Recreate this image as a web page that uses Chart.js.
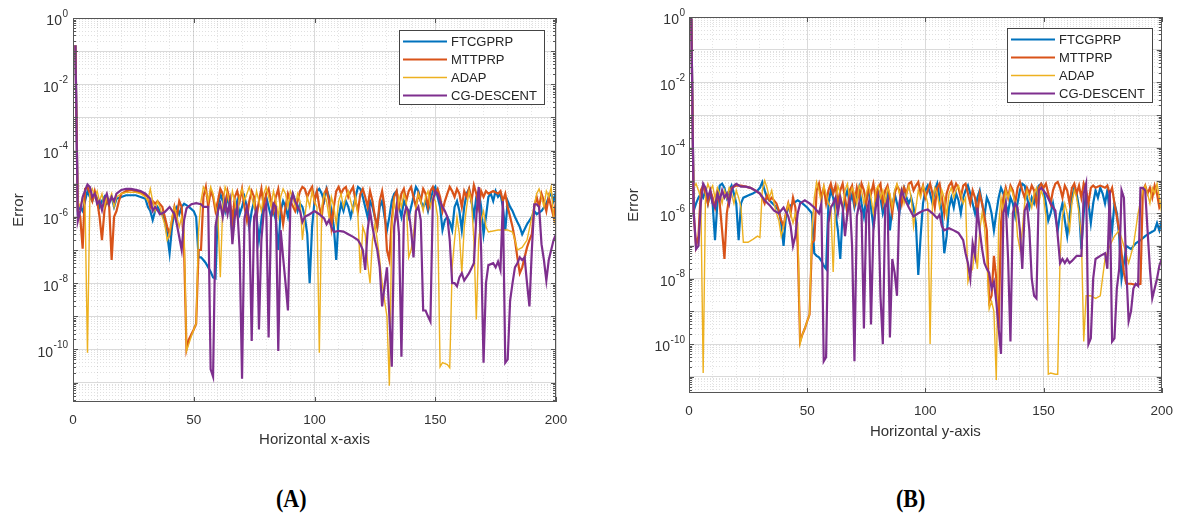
<!DOCTYPE html>
<html>
<head>
<meta charset="utf-8">
<style>
  html, body { margin:0; padding:0; background:#fff; }
  body { width:1183px; height:519px; position:relative; overflow:hidden; }
  #wrapA { position:absolute; left:0; top:0; }
  #wrapB { position:absolute; left:600px; top:0; }
  .tag { position:absolute; top:486px; font-family:"Liberation Serif","Times New Roman",serif; font-weight:bold; font-size:22px; color:#000; transform:scaleY(1.1); }
</style>
</head>
<body>
<div id="wrapA"><canvas id="chartA" width="590" height="460"></canvas></div>
<div id="wrapB"><canvas id="chartB" width="583" height="451"></canvas></div>
<div class="tag" style="left:276px">(A)</div>
<div class="tag" style="left:896px">(B)</div>

<script src="https://cdn.jsdelivr.net/npm/chart.js@4.4.1/dist/chart.umd.min.js"></script>
<script>

// series names and colours (MATLAB default order)
const seriesNames = ['FTCGPRP', 'MTTPRP', 'ADAP', 'CG-DESCENT'];
const seriesColors = ['#0072BD', '#D95319', '#EDB120', '#7E2F8E'];

// x ticks and log ticks (labels drawn as 10 with a raised exponent)
const xTickLabels = [0, 50, 100, 150, 200];
const errorTickValues = [1, 1e-2, 1e-4, 1e-6, 1e-8, 1e-10];
const errorTickExponents = ['0', '-2', '-4', '-6', '-8', '-10'];

// ---- panel (A): [iteration, error] ----
const ftcgprpA = [[1,0.15],[2,1.5e-6],[3,2e-6],[4,1.5e-6],[5,3e-6],[6,6e-6],[7,4e-6],[8,3e-6],[9,5e-6],[10,3.5e-6],[11,2e-6],[12,3e-6],[13,4e-6],[14,2.5e-6],[15,3e-6],[16,4e-6],[17,2e-6],[18,3.5e-6],[20,4e-6],[22,4.5e-6],[24,4.5e-6],[26,4.5e-6],[28,4e-6],[30,3.5e-6],[31,2e-6],[32,1.5e-6],[33,8e-7],[34,1.5e-6],[35,2e-6],[36,1.5e-6],[37,1.2e-6],[38,8e-7],[39,3e-7],[40,8e-8],[41,5e-7],[42,1.5e-6],[43,2e-6],[44,1.2e-6],[45,2e-6],[46,2.5e-6],[48,2e-6],[50,1.5e-6],[51,1e-6],[52,6e-8],[53,6e-8],[54,5e-8],[55,4e-8],[56,3e-8],[57,2.2e-8],[58,1.5e-8],[59,1.4e-8],[60,2e-6],[61,5e-6],[62,3e-6],[63,1.5e-6],[64,4e-6],[65,2e-6],[66,3e-7],[67,1.5e-6],[68,3e-6],[69,1.2e-6],[70,2e-6],[71,4e-6],[72,2e-6],[73,5e-7],[74,1.5e-6],[75,3e-6],[76,1e-6],[77,2e-7],[78,8e-7],[79,3e-6],[80,4e-6],[81,2e-6],[82,1e-6],[83,1.5e-6],[84,8e-7],[85,1e-7],[86,1.5e-6],[87,3e-6],[88,2e-6],[89,1e-6],[90,3e-6],[91,5e-6],[92,3e-6],[93,1.5e-6],[94,2.5e-6],[95,2e-6],[96,1e-6],[97,3e-7],[98,1e-8],[99,5e-7],[100,3e-6],[101,6e-6],[102,7e-6],[103,5e-6],[104,3e-6],[105,7e-6],[106,4e-6],[107,1.5e-6],[108,5e-7],[109,5e-8],[110,1e-6],[111,2.5e-6],[112,1.5e-6],[113,3e-6],[114,2e-6],[115,1e-6],[116,2e-6],[117,4e-6],[118,8e-6],[119,7e-6],[120,4e-6],[121,2e-6],[122,1e-6],[123,3e-6],[124,2e-6],[125,1e-6],[126,5e-7],[127,2e-6],[128,3e-6],[129,1e-6],[130,4e-7],[131,1e-6],[132,3e-6],[133,5e-6],[134,6e-6],[135,2e-6],[136,1e-6],[137,3e-6],[138,2e-6],[139,1e-6],[140,2e-6],[141,4e-6],[142,8e-6],[143,6e-6],[144,3e-6],[145,2e-6],[146,3e-6],[147,1.5e-6],[148,3e-6],[149,6e-6],[150,8e-6],[151,4e-6],[152,2e-6],[153,4e-7],[154,8e-7],[155,1e-6],[156,7e-7],[157,4e-7],[158,2e-6],[159,3e-6],[160,1.5e-6],[161,4e-7],[162,2e-6],[163,5e-6],[164,7e-6],[165,3e-6],[166,1e-6],[167,4e-6],[168,6e-6],[169,2e-6],[170,3e-7],[171,1e-6],[172,4e-6],[173,5e-6],[174,3e-6],[175,6e-6],[176,4e-6],[177,5e-6],[178,2e-6],[179,4e-7],[180,3e-6],[181,2e-6],[182,1.5e-6],[183,1e-6],[184,7e-7],[185,5e-7],[186,3e-7],[188,6e-7],[190,1e-6],[191,1.5e-6],[192,1.2e-6],[194,1.5e-6],[196,2.5e-6],[197,4e-6],[198,5e-6],[199,3e-6],[200,6e-6]];

const mttprpA = [[1,0.15],[2,1.5e-6],[3,1e-6],[4,1.1e-7],[5,7e-6],[6,8e-6],[7,5e-6],[8,3e-6],[9,6e-6],[10,3e-6],[11,1e-6],[12,2e-7],[13,1.5e-6],[14,4e-6],[15,2e-6],[16,5e-8],[17,1e-6],[18,1.5e-6],[19,3e-6],[20,5e-6],[22,6e-6],[24,6.5e-6],[26,6e-6],[28,5.5e-6],[30,4.5e-6],[31,4e-6],[32,2e-6],[33,3e-6],[34,2.5e-6],[35,3e-6],[37,2e-6],[38,1e-6],[39,5e-7],[40,3e-7],[41,8e-7],[42,2e-6],[43,1e-6],[44,3e-6],[45,2e-6],[46,1e-7],[47,1e-10],[48,2e-10],[50,4e-10],[51,6e-10],[52,1e-7],[53,1e-7],[54,4e-6],[55,8e-6],[56,2e-6],[57,6e-6],[58,4e-6],[59,1.5e-6],[60,3e-6],[61,7e-6],[62,5e-6],[63,2e-6],[64,6e-6],[65,3e-6],[66,8e-7],[67,4e-6],[68,6e-6],[69,3e-6],[70,7e-6],[71,2e-6],[72,8e-7],[73,3e-6],[74,6e-6],[75,4e-6],[76,1e-6],[77,3e-6],[78,7e-6],[79,2e-6],[80,5e-6],[81,7e-6],[82,3e-6],[83,1.5e-6],[84,4e-6],[85,7e-6],[86,2e-6],[87,6e-7],[88,2e-6],[89,5e-6],[90,3e-6],[92,1.5e-6],[93,3e-6],[94,6e-6],[95,8e-6],[96,7e-6],[97,4e-6],[98,6e-6],[99,8e-6],[100,3e-6],[101,6e-6],[102,2e-6],[103,1e-6],[104,5e-6],[105,7e-6],[106,3e-6],[107,5e-7],[108,2e-6],[109,6e-6],[110,8e-6],[111,5e-6],[112,7e-6],[113,8e-6],[114,4e-6],[115,6e-6],[116,8e-6],[117,3e-6],[118,1.5e-6],[119,5e-6],[120,7e-6],[121,4e-6],[122,2e-6],[123,6e-6],[124,3e-6],[125,1e-6],[126,5e-7],[127,3e-6],[128,6e-6],[129,2e-6],[130,1e-7],[131,5e-8],[132,8e-7],[133,4e-6],[134,6e-6],[135,2e-6],[136,5e-6],[137,7e-6],[138,3e-6],[139,6e-6],[140,8e-6],[141,4e-6],[142,2e-6],[143,5e-6],[144,3e-6],[145,7e-6],[146,5e-6],[147,2e-6],[148,6e-6],[149,8e-6],[150,5e-6],[151,7e-6],[152,4e-6],[153,1.5e-6],[154,3e-6],[155,5e-6],[156,8e-6],[157,6e-6],[158,4e-6],[159,7e-6],[160,5e-6],[161,2e-6],[162,6e-6],[163,4e-6],[164,7e-6],[165,3e-6],[166,9e-6],[167,5e-6],[168,2e-6],[169,6e-6],[170,4e-6],[171,6e-6],[172,5e-6],[174,6e-6],[176,5e-6],[177,6e-6],[178,3e-6],[179,5e-6],[180,2e-6],[181,1e-6],[182,5e-7],[183,2e-7],[184,6e-8],[185,2e-8],[186,3e-8],[187,6e-8],[188,1.2e-7],[189,2e-7],[190,3e-7],[191,2e-6],[192,4e-6],[193,2e-6],[194,5e-6],[195,3e-6],[196,1.5e-6],[197,4e-6],[198,2e-6],[199,1e-6],[200,3e-6]];

const adapA = [[1,0.15],[2,3e-6],[3,2e-6],[4,4e-6],[5,2e-6],[6,8e-11],[7,5e-6],[8,7e-6],[9,4e-6],[10,6e-6],[11,3e-6],[12,5e-6],[13,2e-6],[14,4e-6],[15,3e-6],[16,5e-6],[17,2e-6],[18,4e-6],[20,5e-6],[22,5.5e-6],[24,5.5e-6],[26,5.5e-6],[28,5e-6],[30,4e-6],[31,3e-6],[32,7e-6],[33,3e-6],[34,1.5e-6],[35,3e-6],[36,2e-6],[37,1e-6],[38,6e-7],[39,2e-7],[40,3e-7],[41,1e-6],[42,2e-6],[43,1e-6],[44,5e-7],[45,1e-6],[46,4e-7],[47,9e-11],[48,1.5e-10],[49,2.5e-10],[50,4e-10],[51,6e-10],[52,4e-7],[53,3e-6],[54,8e-6],[55,6e-6],[56,3e-6],[57,8e-6],[58,5e-6],[59,2e-6],[60,1e-6],[61,1.5e-8],[62,2e-6],[63,8e-6],[64,5e-6],[65,2e-6],[66,6e-6],[67,3e-6],[68,1e-6],[69,4e-6],[70,7e-6],[71,3e-6],[72,5e-6],[73,8e-6],[74,4e-6],[75,2e-6],[76,6e-6],[77,3e-6],[78,1.5e-6],[79,5e-6],[80,8e-6],[81,4e-6],[82,2e-6],[83,6e-6],[84,3e-6],[85,1e-6],[86,4e-6],[87,7e-6],[88,5e-6],[89,2e-6],[90,6e-6],[91,4e-6],[92,2e-6],[93,5e-6],[94,3e-6],[95,2e-7],[96,1e-6],[97,4e-6],[98,2e-6],[99,6e-6],[100,3e-6],[101,2e-6],[102,8e-11],[103,2e-6],[104,5e-6],[105,3e-6],[106,1e-6],[107,4e-6],[108,2e-6],[109,6e-7],[110,3e-6],[111,5e-6],[112,2e-6],[113,4e-6],[114,6e-6],[115,3e-6],[116,1.5e-6],[117,4e-6],[118,1e-6],[119,2e-8],[120,5e-7],[121,3e-7],[122,4e-8],[123,1e-8],[124,2e-7],[125,6e-7],[126,2e-7],[127,5e-8],[128,1e-8],[129,3e-9],[130,1e-9],[131,8e-12],[132,5e-7],[133,3e-6],[134,1e-6],[135,4e-6],[136,2e-6],[137,5e-6],[138,3e-6],[139,6e-8],[140,1e-7],[141,3e-7],[142,2e-6],[143,5e-6],[144,3e-6],[145,1.5e-6],[146,4e-6],[147,6e-6],[148,2e-6],[149,4e-6],[150,3e-6],[151,1e-6],[152,3e-11],[153,4e-11],[155,3.5e-11],[156,2.8e-11],[157,3e-8],[158,2e-7],[159,1e-6],[160,3e-7],[161,2e-8],[162,5e-7],[163,2e-6],[164,6e-6],[165,3e-6],[166,2e-7],[167,8e-10],[168,2e-7],[169,8e-7],[170,1.5e-6],[171,5e-7],[172,3.5e-7],[176,4e-7],[180,4e-7],[182,3.5e-7],[183,2e-7],[184,1e-7],[186,1.2e-7],[188,2e-7],[190,1e-6],[192,5e-6],[193,7e-6],[194,4e-6],[195,2e-6],[196,6e-6],[197,4e-6],[198,8e-6],[199,1e-6],[200,5e-7]];

const cgDescentA = [[1,0.15],[2,7.5e-7],[3,1.5e-6],[4,4e-6],[6,9.5e-6],[7,8e-6],[8,4e-6],[9,5e-6],[10,2.5e-6],[11,3e-6],[12,1.6e-6],[13,3.5e-6],[14,5e-6],[15,2.5e-6],[16,4e-6],[17,3e-6],[18,5e-6],[20,6.5e-6],[22,7e-6],[24,7e-6],[26,6.5e-6],[28,6e-6],[30,5e-6],[32,3.5e-6],[33,1.5e-6],[34,2e-6],[35,1.6e-6],[36,1.2e-6],[38,1.4e-6],[40,2e-6],[42,1.2e-6],[43,6e-7],[45,1e-7],[46,8e-7],[47,1.8e-6],[49,2.4e-6],[51,2.6e-6],[53,2.4e-6],[54,2e-6],[56,2e-6],[57,2.5e-11],[58,1.5e-11],[59,5e-7],[60,1.5e-6],[61,2.5e-6],[62,1e-6],[63,3e-6],[64,1.2e-6],[65,3e-6],[66,1.5e-7],[67,1e-6],[68,2e-6],[69,1e-7],[70,1.3e-11],[71,9e-7],[72,2e-6],[73,8e-7],[74,1.8e-10],[75,1e-6],[76,1.6e-6],[77,4e-10],[78,2e-7],[79,1.5e-6],[80,2.5e-6],[81,2.3e-10],[82,1e-6],[83,2.5e-6],[84,2e-6],[85,9e-11],[86,4e-7],[87,6e-8],[88,1e-8],[89,1.5e-9],[90,2e-6],[91,5e-6],[92,3e-6],[93,2e-6],[94,1.5e-6],[95,7e-7],[96,1e-6],[98,1.2e-6],[100,1.5e-6],[102,1.2e-6],[104,9e-7],[105,6e-7],[106,8e-7],[107,5e-7],[108,3.5e-7],[110,3.8e-7],[112,3.6e-7],[114,3e-7],[116,2.5e-7],[118,2e-7],[119,1.5e-7],[120,1e-7],[121,2.5e-8],[122,4e-7],[123,1.5e-6],[124,5e-7],[125,2e-7],[126,1e-7],[127,3e-8],[128,2e-9],[129,8e-9],[130,3e-8],[131,1e-9],[132,3e-11],[133,5e-7],[134,2e-6],[135,3e-7],[136,6e-11],[137,1e-6],[138,2e-6],[139,1.5e-6],[140,4e-7],[141,6e-8],[142,1.5e-6],[143,2e-6],[144,8e-7],[145,1.5e-9],[146,1.5e-9],[147,1e-9],[148,7e-10],[149,3e-6],[150,6e-6],[151,5e-6],[152,3e-6],[153,2e-6],[154,1.5e-6],[155,1e-6],[156,2e-7],[157,1e-8],[158,1e-8],[159,8e-9],[160,1.5e-8],[161,2e-8],[162,1.2e-8],[164,2e-8],[166,4e-8],[167,1e-6],[168,8e-6],[169,1e-7],[170,4e-11],[171,1e-8],[172,3.5e-8],[174,4e-8],[175,3e-8],[176,4.5e-8],[177,2.5e-8],[178,3e-6],[179,4e-11],[180,5e-11],[181,3e-9],[182,1e-8],[183,3e-8],[184,4e-8],[185,6e-8],[186,5e-8],[187,6e-8],[188,1e-8],[189,2e-9],[190,1e-7],[191,2.4e-6],[192,2.4e-6],[193,2e-6],[194,1.5e-7],[195,5e-8],[196,1.2e-8],[197,5e-8],[198,1e-7],[199,2e-7],[200,3e-7]];

// ---- panel (B) ----
const ftcgprpB = [[1,0.9],[2,1.2e-6],[3,2e-6],[4,3e-6],[5,4e-6],[6,3e-6],[7,5e-6],[8,2e-6],[9,4e-6],[10,2e-6],[11,1.5e-7],[12,2e-6],[13,7e-6],[14,8e-6],[15,6e-6],[16,3e-6],[17,5e-6],[18,7e-6],[19,4e-6],[20,2e-6],[21,1.5e-7],[22,2e-6],[23,3e-6],[25,3.5e-6],[27,4e-6],[29,5e-6],[30,6e-6],[31,9e-6],[32,5e-6],[33,3e-6],[34,2.5e-6],[36,1.8e-6],[38,1.2e-6],[39,5e-7],[40,1e-7],[41,8e-7],[42,1.5e-6],[44,2e-6],[46,2.5e-6],[48,2e-6],[50,1.5e-6],[52,1e-6],[53,6e-8],[54,5e-8],[55,4.5e-8],[56,3.5e-8],[57,2.5e-8],[58,2e-8],[59,2e-6],[60,5e-6],[61,3e-6],[62,1e-6],[63,3e-7],[64,4e-8],[65,1e-6],[66,3e-6],[67,5e-6],[68,2e-6],[69,4e-6],[70,1.5e-6],[71,3e-6],[72,6e-6],[73,2e-6],[74,8e-7],[75,3e-6],[76,5e-6],[77,1.5e-6],[78,4e-7],[79,2e-6],[80,5e-6],[81,3e-6],[82,1e-6],[83,2e-6],[84,4e-6],[85,3e-7],[86,1.5e-6],[87,4e-6],[88,2e-6],[89,1e-6],[90,4e-6],[91,6e-6],[92,3e-6],[93,2e-6],[94,3e-6],[95,1.5e-6],[96,5e-7],[97,1.3e-8],[98,2e-7],[99,2e-6],[100,5e-6],[101,7e-6],[102,4e-6],[103,2e-6],[104,5e-6],[105,8e-6],[106,3e-6],[107,1e-6],[108,6e-8],[109,2e-7],[110,1.5e-6],[111,3e-6],[112,1.5e-6],[113,4e-6],[114,2.5e-6],[115,1e-6],[116,3e-6],[117,5e-6],[118,7e-6],[119,4e-6],[120,2e-6],[121,1e-6],[122,3e-6],[123,5e-6],[124,2e-6],[125,8e-7],[126,3e-6],[127,2e-6],[128,1e-6],[129,3e-7],[130,1e-6],[131,3e-6],[132,6e-6],[133,4e-6],[134,2e-6],[135,1e-6],[136,3e-6],[137,2e-6],[138,8e-7],[139,2e-6],[140,5e-6],[141,8e-6],[142,7e-6],[143,3e-6],[144,1.5e-6],[145,3e-6],[146,2e-6],[147,4e-6],[148,7e-6],[149,8e-6],[150,5e-6],[151,2e-6],[152,6e-7],[153,1e-6],[154,2e-6],[155,8e-7],[156,3e-7],[157,1e-6],[158,2e-6],[159,6e-7],[160,2e-7],[161,8e-7],[162,3e-6],[163,6e-6],[164,4e-6],[165,1.5e-6],[166,8e-8],[167,1e-6],[168,4e-6],[169,2e-6],[170,5e-7],[171,2e-6],[172,5e-6],[173,3e-6],[174,6e-6],[175,4e-6],[176,2e-6],[177,5e-6],[178,1e-6],[179,3e-7],[180,2e-6],[181,1e-6],[182,2e-7],[183,1e-8],[184,3e-8],[185,1e-7],[187,8e-8],[189,1.2e-7],[191,1.5e-7],[193,2e-7],[195,2.5e-7],[197,3e-7],[198,5e-7],[199,3e-7],[200,6e-7]];

const mttprpB = [[1,0.9],[2,1e-6],[3,1e-7],[4,2e-7],[5,5e-6],[6,7e-6],[7,4e-6],[8,2e-6],[9,5e-6],[10,3e-6],[11,1.5e-6],[12,4e-6],[13,2e-6],[14,3e-7],[15,4e-8],[16,1e-6],[17,3e-6],[18,6e-6],[20,7e-6],[22,7e-6],[24,6.5e-6],[26,6e-6],[28,5e-6],[30,4e-6],[31,3e-6],[32,2e-6],[33,3.5e-6],[34,2.5e-6],[35,3e-6],[37,2e-6],[38,1.2e-6],[39,6e-7],[40,4e-7],[41,1e-6],[42,2e-6],[43,1e-6],[44,3e-6],[45,1.5e-6],[46,1e-7],[47,1.2e-10],[48,2e-10],[49,3e-10],[50,5e-10],[51,8e-10],[52,1.2e-7],[53,1.5e-7],[54,5e-6],[55,8e-6],[56,3e-6],[57,6e-6],[58,2e-6],[59,5e-6],[60,8e-6],[61,4e-6],[62,7e-6],[63,2e-6],[64,5e-6],[65,8e-6],[66,3e-6],[67,1e-6],[68,5e-6],[69,7e-6],[70,2e-6],[71,6e-6],[72,3e-6],[73,8e-6],[74,5e-6],[75,2e-6],[76,6e-6],[77,4e-6],[78,8e-6],[79,3e-6],[80,6e-6],[81,8e-6],[82,2e-6],[83,5e-6],[84,7e-6],[85,3e-6],[86,1e-6],[87,4e-6],[88,7e-6],[89,5e-6],[90,2e-6],[91,6e-6],[92,4e-6],[93,8e-6],[94,9e-6],[95,5e-6],[96,7e-6],[97,9e-6],[98,4e-6],[99,7e-6],[100,3e-6],[101,5e-6],[102,8e-6],[103,4e-6],[104,1.5e-6],[105,6e-6],[106,8e-6],[107,3e-6],[108,1e-6],[109,4e-6],[110,7e-6],[111,9e-6],[112,5e-6],[113,8e-6],[114,6e-6],[115,3e-6],[116,7e-6],[117,8e-6],[118,4e-6],[119,2e-6],[120,5e-6],[121,3e-6],[122,1e-6],[123,4e-6],[124,2e-6],[125,8e-7],[126,3e-7],[127,2e-9],[128,3e-9],[129,5e-8],[130,1e-8],[131,3e-10],[132,5e-7],[133,3e-6],[134,6e-6],[135,3e-6],[136,7e-6],[137,5e-6],[138,2e-6],[139,6e-6],[140,9e-6],[141,5e-6],[142,3e-6],[143,6e-6],[144,4e-6],[145,7e-6],[146,5e-6],[147,2e-6],[148,6e-6],[149,8e-6],[150,6e-6],[151,8e-6],[152,4e-6],[153,2e-6],[154,5e-6],[155,8e-6],[156,9e-6],[157,6e-6],[158,3e-6],[159,7e-6],[160,5e-6],[161,2e-6],[162,6e-6],[163,8e-6],[164,4e-6],[165,7e-6],[166,3e-6],[167,8e-6],[168,5e-6],[169,2e-6],[170,6e-6],[171,7e-6],[172,6e-6],[174,7e-6],[176,6e-6],[177,7e-6],[178,4e-6],[179,6e-6],[180,2e-6],[181,8e-7],[182,3e-7],[183,6e-8],[184,1.5e-8],[185,7e-9],[187,7e-9],[189,6.5e-9],[191,7e-9],[192,5e-6],[193,7e-6],[194,4e-6],[195,6e-6],[196,3e-6],[197,7e-6],[198,4e-6],[199,1.5e-6],[200,2e-6]];

const adapB = [[1,0.9],[2,6e-6],[3,8e-6],[4,5e-6],[5,3e-6],[6,1.3e-11],[7,4e-6],[8,8e-6],[9,5e-6],[10,7e-6],[11,3e-6],[12,6e-6],[13,4e-6],[14,2e-6],[15,5e-6],[16,3e-6],[17,6e-6],[18,4e-6],[19,2e-6],[20,5e-6],[21,3e-6],[22,1.5e-6],[23,1.3e-7],[25,1.3e-7],[27,1.6e-7],[29,2e-7],[30,1.8e-7],[31,5e-6],[32,1e-5],[33,6e-6],[34,3e-6],[35,5e-6],[36,2e-6],[37,1e-6],[38,6e-7],[39,2e-7],[40,4e-7],[41,1e-6],[42,2e-6],[43,1e-6],[44,5e-7],[45,1e-6],[46,5e-7],[47,1e-10],[48,2e-10],[49,3e-10],[50,5e-10],[51,8e-10],[52,3e-7],[53,3e-6],[54,9e-6],[55,5e-6],[56,2e-6],[57,7e-6],[58,4e-6],[59,2e-6],[60,1.5e-6],[61,1.6e-8],[62,2e-6],[63,7e-6],[64,4e-6],[65,1.5e-6],[66,5e-6],[67,8e-6],[68,3e-6],[69,6e-6],[70,4e-6],[71,2e-6],[72,7e-6],[73,5e-6],[74,2e-6],[75,4e-6],[76,8e-6],[77,3e-6],[78,1e-6],[79,5e-6],[80,7e-6],[81,3e-6],[82,5e-6],[83,2e-6],[84,6e-6],[85,4e-6],[86,1.5e-6],[87,5e-6],[88,8e-6],[89,4e-6],[90,6e-6],[91,2e-6],[92,4e-6],[93,7e-6],[94,3e-6],[95,4e-7],[96,1.5e-6],[97,5e-6],[98,3e-6],[99,7e-6],[100,4e-6],[101,2e-6],[102,1e-10],[103,2e-6],[104,6e-6],[105,4e-6],[106,1.5e-6],[107,5e-6],[108,3e-6],[109,8e-7],[110,4e-6],[111,6e-6],[112,3e-6],[113,5e-6],[114,7e-6],[115,4e-6],[116,2e-6],[117,3e-6],[118,8e-9],[119,1.5e-8],[120,2e-8],[121,1e-7],[122,2e-8],[123,3e-7],[124,1e-6],[125,4e-7],[126,4e-8],[127,1.2e-9],[128,2e-9],[129,1e-9],[130,8e-12],[131,4e-7],[132,3e-6],[133,1e-6],[134,5e-6],[135,3e-6],[136,6e-6],[137,4e-6],[138,2e-6],[139,2e-7],[140,8e-8],[141,3e-7],[142,2e-6],[143,5e-6],[144,3e-6],[145,1.5e-6],[146,4e-6],[147,6e-6],[148,2e-6],[149,5e-6],[150,3e-6],[151,8e-7],[152,1.2e-11],[153,1.3e-11],[155,1.2e-11],[156,1.2e-11],[157,5e-8],[158,8e-7],[159,2e-6],[160,1e-6],[161,3e-7],[162,2e-6],[163,5e-6],[164,3e-6],[165,1e-6],[166,2e-7],[167,1.2e-10],[168,3e-9],[170,3e-9],[172,2.5e-9],[174,3e-9],[176,4e-8],[178,1e-7],[180,2e-7],[182,3e-7],[184,1e-7],[186,3e-8],[188,1e-7],[190,1e-6],[192,5e-6],[193,7e-6],[194,4e-6],[195,2e-6],[196,6e-6],[197,4e-6],[198,8e-6],[199,3e-6],[200,1e-6]];

const cgDescentB = [[1,0.9],[2,1e-6],[3,8e-8],[4,1e-7],[5,2e-6],[6,8e-6],[7,6e-6],[8,3e-6],[9,5e-6],[10,2e-6],[11,1.5e-6],[12,4e-6],[13,2.5e-6],[14,5e-6],[15,3e-6],[16,4e-6],[17,2e-6],[18,5e-6],[19,7e-6],[20,8e-6],[22,6.5e-6],[24,6.5e-6],[26,6e-6],[28,5e-6],[30,4e-6],[32,2.5e-6],[34,1.8e-6],[36,1.2e-6],[38,1e-6],[40,1.5e-6],[42,8e-7],[43,4e-7],[44,1e-7],[45,2e-7],[46,1e-6],[47,2e-6],[49,2.5e-6],[51,2e-6],[53,1.5e-6],[55,1e-6],[56,2e-6],[57,3e-11],[58,4e-11],[59,5e-7],[60,1.5e-6],[61,2e-6],[62,3e-6],[63,1e-6],[64,3e-6],[65,1.5e-6],[66,2e-7],[67,1e-6],[68,2.5e-6],[69,1e-7],[70,3e-11],[71,8e-7],[72,2e-6],[73,1e-6],[74,3e-10],[75,1e-6],[76,2e-6],[77,4e-10],[78,3e-7],[79,1.5e-6],[80,3e-6],[81,3e-9],[82,1e-10],[83,1.5e-6],[84,2.5e-6],[85,1.6e-10],[86,4e-8],[87,1.5e-8],[88,3e-9],[89,2e-6],[90,5e-6],[91,3e-6],[93,1.5e-6],[95,8e-7],[97,1e-6],[99,1.2e-6],[101,1.3e-6],[103,1e-6],[105,7e-7],[106,9e-7],[107,4e-7],[108,3e-7],[110,3.5e-7],[112,3e-7],[114,2.5e-7],[116,1.5e-7],[117,6e-8],[118,3e-8],[119,1e-8],[120,1.2e-7],[121,5e-8],[122,1.5e-6],[123,3e-7],[124,8e-8],[125,3e-8],[126,2e-8],[127,1.5e-8],[128,5e-9],[129,8e-9],[130,2e-9],[131,3e-10],[132,5e-11],[133,1e-6],[134,2e-6],[135,4e-8],[136,1.2e-10],[137,1e-6],[138,2e-6],[139,1.5e-6],[140,3e-7],[141,2e-8],[142,1.2e-6],[143,1.8e-6],[144,3e-7],[145,1e-8],[146,3e-9],[147,2.5e-9],[148,5e-6],[149,6e-6],[151,4e-6],[153,2e-6],[155,1.2e-6],[156,2e-7],[157,3e-8],[158,4e-8],[159,3e-8],[160,4e-8],[161,3e-8],[162,3.5e-8],[164,5e-8],[166,5e-8],[167,4e-6],[168,8e-6],[169,1e-10],[170,1.5e-10],[171,1e-8],[172,4e-8],[174,5e-8],[176,6e-8],[177,2e-8],[178,5e-6],[179,1.2e-10],[180,1.5e-10],[181,5e-9],[182,2e-8],[183,5e-6],[184,3e-6],[185,2e-8],[186,5e-10],[187,1e-9],[188,5e-9],[189,7e-9],[190,6e-9],[191,6e-6],[192,6e-6],[193,5e-6],[194,3e-7],[195,2e-8],[196,2.5e-9],[197,5e-9],[198,1e-8],[199,2.5e-8],[200,4e-8]];

const FONT = '"Liberation Sans", Arial, Helvetica, sans-serif';

function isDecade(v) {
  const l = Math.log10(v);
  return Math.abs(l - Math.round(l)) < 1e-6;
}

function makeFrame(o) {
  const lg = o.legend;
  return {
    id: 'frame',
    afterDraw(chart) {
      const ctx = chart.ctx;
      const a = chart.chartArea;
      const xs = chart.scales.x, ys = chart.scales.y;
      ctx.save();
      ctx.strokeStyle = '#555';
      ctx.lineWidth = 1;
      ctx.strokeRect(Math.round(a.left) + 0.5, Math.round(a.top) + 0.5, Math.round(a.width) - 1, Math.round(a.height) - 1);
      ctx.beginPath();
      xTickLabels.forEach(v => {
        const px = Math.round(xs.getPixelForValue(v)) + 0.5;
        ctx.moveTo(px, a.bottom); ctx.lineTo(px, a.bottom - 5);
        ctx.moveTo(px, a.top); ctx.lineTo(px, a.top + 5);
      });
      ys.ticks.forEach(t => {
        const len = isDecade(t.value) ? 5 : 3;
        const py = Math.round(ys.getPixelForValue(t.value)) + 0.5;
        ctx.moveTo(a.left, py); ctx.lineTo(a.left + len, py);
        ctx.moveTo(a.right, py); ctx.lineTo(a.right - len, py);
      });
      ctx.stroke();

      // y tick labels: "10" with a raised exponent
      ctx.fillStyle = '#333';
      ctx.textAlign = 'right';
      ctx.textBaseline = 'middle';
      errorTickValues.forEach((v, k) => {
        const py = ys.getPixelForValue(v);
        const xr = a.left - o.yTickPad;
        ctx.font = '10px ' + FONT;
        const ew = ctx.measureText(errorTickExponents[k]).width;
        ctx.fillText(errorTickExponents[k], xr, py - 4);
        ctx.font = '14px ' + FONT;
        ctx.fillText('10', xr - ew - 0.5, py + 3.5);
      });

      // legend box inside the axes, upper right
      const w = 145, h = 74;
      const left = Math.round(a.right - lg.right - w), top = Math.round(a.top + lg.top);
      ctx.fillStyle = '#fff';
      ctx.fillRect(left, top, w, h);
      ctx.strokeStyle = '#444';
      ctx.lineWidth = 1;
      ctx.strokeRect(left + 0.5, top + 0.5, w, h);
      ctx.font = '13px ' + FONT;
      ctx.textBaseline = 'middle';
      ctx.textAlign = 'left';
      chart.data.datasets.forEach((ds, i) => {
        const y = top + 11.5 + i * 18;
        ctx.strokeStyle = ds.borderColor;
        ctx.lineWidth = i === 2 ? 1.6 : 2.2;
        ctx.beginPath();
        ctx.moveTo(left + 4, y); ctx.lineTo(left + 48, y);
        ctx.stroke();
        ctx.fillStyle = '#262626';
        ctx.fillText(ds.label, left + 52, y + 0.5);
      });
      ctx.restore();
    }
  };
}

function makeChart(id, series, o) {
  const yGrid = [];
  for (let e = -12; e < 0; e++) {
    for (let m = 1; m <= 9; m++) {
      const v = m * Math.pow(10, e);
      if (v >= o.yMin) yGrid.push(v);
    }
  }
  yGrid.push(1);
  const xGrid = [];
  for (let v = 0; v <= 200; v += 10) xGrid.push(v);

  return new Chart(document.getElementById(id), {
    type: 'line',
    data: {
      datasets: seriesNames.map((name, i) => ({
        label: name,
        data: series[i].map(p => ({x: p[0], y: p[1]})),
        borderColor: seriesColors[i],
        borderWidth: i === 2 ? 1.4 : 2.2,
        pointRadius: 0,
        tension: 0,
        fill: false,
        order: 3 - i
      }))
    },
    options: {
      responsive: false,
      animation: false,
      events: [],
      layout: { padding: { top: o.padTop, right: o.padRight, left: 0, bottom: 0 } },
      plugins: { legend: { display: false }, tooltip: { enabled: false } },
      scales: {
        x: {
          type: 'linear', min: 0, max: 200,
          afterBuildTicks: s => { s.ticks = xGrid.map(v => ({value: v})); },
          afterFit: s => { s.height = o.xAxisHeight; },
          ticks: {
            autoSkip: false, maxRotation: 0, padding: 10, color: '#333',
            font: { size: 13.5, family: FONT },
            callback: v => xTickLabels.includes(v) ? String(v) : ''
          },
          grid: {
            drawTicks: false, lineWidth: 1,
            color: c => (c.tick && c.tick.value % 50 === 0) ? '#dadada' : 'rgba(0,0,0,0.10)'
          },
          border: { display: false, dash: c => (c.tick && c.tick.value % 50 !== 0) ? [1, 2] : [] },
          title: {
            display: true, text: o.xTitle, color: '#333',
            font: { size: 15, family: FONT }, padding: { top: 0, bottom: o.xTitlePad }
          }
        },
        y: {
          type: 'logarithmic', min: o.yMin, max: 1,
          afterBuildTicks: s => { s.ticks = yGrid.map(v => ({value: v})); },
          afterFit: s => { s.width = o.yAxisWidth; },
          ticks: { display: false, autoSkip: false },
          grid: {
            drawTicks: false, lineWidth: 1,
            color: c => (c.tick && isDecade(c.tick.value)) ? '#dadada' : 'rgba(0,0,0,0.12)'
          },
          border: { display: false, dash: c => (c.tick && !isDecade(c.tick.value)) ? [1, 2] : [] },
          title: {
            display: true, text: 'Error', color: '#333',
            font: { size: 15, family: FONT }, padding: { top: o.yTitlePad, bottom: 0 }
          }
        }
      }
    },
    plugins: [makeFrame(o)]
  });
}

makeChart('chartA', [ftcgprpA, mttprpA, adapA, cgDescentA], {
  yMin: 2.6e-12, padTop: 18, padRight: 34, xAxisHeight: 58, yAxisWidth: 73,
  xTitle: 'Horizontal x-axis', xTitlePad: 11, yTitlePad: 10, yTickPad: 5,
  legend: { right: 12, top: 12 }
});

makeChart('chartB', [ftcgprpB, mttprpB, adapB, cgDescentB], {
  yMin: 3.2e-12, padTop: 17, padRight: 16, xAxisHeight: 58, yAxisWidth: 89,
  xTitle: 'Horizontal y-axis', xTitlePad: 10, yTitlePad: 25, yTickPad: 4,
  legend: { right: 10, top: 11 }
});
</script>
</body>
</html>
